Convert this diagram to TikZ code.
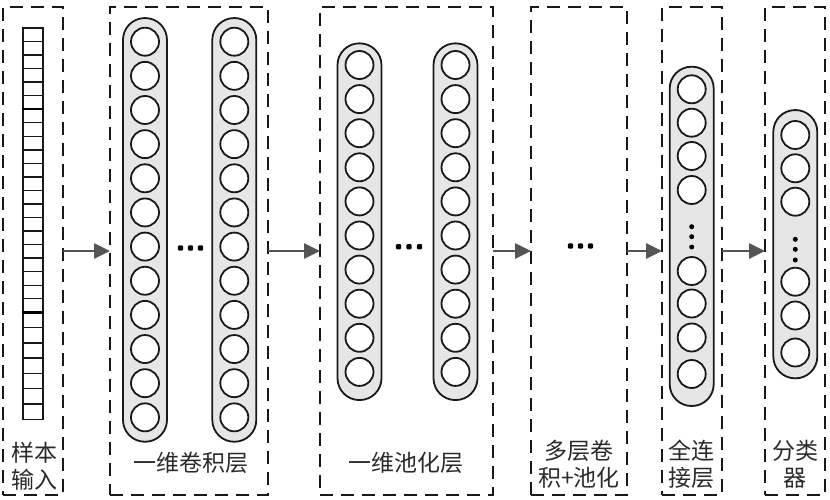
\documentclass[tikz,border=0pt]{standalone}
\usepackage{fontspec}
\newfontfamily\cjk{Noto Sans CJK SC}
\usetikzlibrary{arrows.meta}
\definecolor{arrowgray}{HTML}{555555}
\definecolor{capfill}{HTML}{E6E6E6}
\definecolor{txtgray}{HTML}{2A2A2A}
\begin{document}
\begin{tikzpicture}[x=1pt,y=-1pt,
  stage/.style={draw=black!90, dash pattern=on 13pt off 8pt, line width=2pt,
    minimum width=#1, minimum height=488pt, inner sep=0pt, outer sep=0pt},
  capsule/.style={draw=black!90, fill=capfill, line width=1.8pt, rounded corners=21.8pt,
    minimum width=44pt, minimum height=#1, inner sep=0pt, outer sep=0pt},
  neuron/.style={circle, draw=black!90, fill=white, line width=1.8pt, minimum size=28pt, inner sep=0pt},
  inputcol/.style={draw=black!90, line width=1.6pt, minimum width=20pt, minimum height=391.3pt, inner sep=0pt},
  cellline/.style={draw=black!90, line width=1.4pt},
  boldline/.style={draw=black, line width=2.4pt},
  lab/.style={font=\cjk\fontsize{23}{27}\selectfont, text=txtgray, align=center, inner sep=0pt},
  arr/.style={draw=arrowgray, line width=2.6pt, -{Triangle[length=16pt,width=15pt]}},
  vdot/.style={fill=black},
  hdot/.style={fill=black, rounded corners=1pt}
]
\useasboundingbox (0,0) rectangle (830,500);

% stages (dashed boxes)
\node[stage=60pt]  (s1) at (33,251) {};
\node[stage=158pt] (s2) at (189,251) {};
\node[stage=173pt] (s3) at (406.5,251) {};
\node[stage=96pt]  (s4) at (579,251) {};
\node[stage=60pt]  (s5) at (692,251) {};
\node[stage=60pt]  (s6) at (795,251) {};

% input column
\node[inputcol] (inp) at (33,223.65) {};
\foreach \k in {1,...,20}{
  \draw[cellline] (inp.west |- 0,{28+\k*13.538}) -- (inp.east |- 0,{28+\k*13.538});
}
\draw[boldline] (inp.west |- 0,109.2) -- (inp.east |- 0,109.2);
\draw[boldline] (inp.west |- 0,312.3) -- (inp.east |- 0,312.3);
\foreach \k in {1,...,6}{
  \draw[cellline] (inp.west |- 0,{312.3+\k*15.29}) -- (inp.east |- 0,{312.3+\k*15.29});
}

% convolution layer
\node[capsule=423.7pt] (cv1) at (145,229.9) {};
\node[capsule=423.7pt] (cv2) at (234.3,229.9) {};
\foreach \i in {0,...,11}{
  \node[neuron] (cva\i) at (145,{41.7+\i*34.15}) {};
  \node[neuron] (cvb\i) at (234.3,{41.7+\i*34.15}) {};
}
\foreach \x in {180.5,190.5,200.5}{
  \fill[hdot] (\x-2.6,245.4) rectangle (\x+2.6,250.6);
}

% pooling layer
\node[capsule=356.7pt] (pl1) at (359.5,221.7) {};
\node[capsule=356.7pt] (pl2) at (455.5,221.7) {};
\foreach \i in {0,...,9}{
  \node[neuron] (pla\i) at (359.5,{65+\i*34.1}) {};
  \node[neuron] (plb\i) at (455.5,{65+\i*34.1}) {};
}
\foreach \x in {398.5,409,419.5}{
  \fill[hdot] (\x-2.6,244.1) rectangle (\x+2.6,249.3);
}

% multi-layer placeholder dots
\foreach \x in {570.5,580.5,590.5}{
  \fill[hdot] (\x-2.6,243.4) rectangle (\x+2.6,248.6);
}

% fully connected layer
\node[capsule=339.3pt] (fc) at (691.7,236.35) {};
\foreach \y [count=\n] in {89.3,122.7,156,190,271,303.5,337.5,374}{
  \node[neuron] (fcn\n) at (691.7,\y) {};
}
\foreach \y in {226.7,236.7,247}{
  \fill[vdot] (691.7,\y) circle (2.5pt);
}

% classifier
\node[capsule=268.3pt] (cl) at (795.3,244.2) {};
\foreach \y [count=\n] in {135,168.3,201.7,281.7,315.5,352.5}{
  \node[neuron] (cln\n) at (795.3,\y) {};
}
\foreach \y in {239.3,249.3,260}{
  \fill[vdot] (795.3,\y) circle (2.5pt);
}

% arrows
\draw[arr] (s1.east) -- (s2.west);
\draw[arr] (s2.east) -- (s3.west);
\draw[arr] (s3.east) -- (s4.west);
\draw[arr] (s4.east) -- (s5.west);
\draw[arr] (s5.east) -- (s6.west);

% labels
\node[lab] (l1) at (35,466) {样本\\输入};
\node[lab] (l2) at (190.5,463) {一维卷积层};
\node[lab] (l3) at (406,463) {一维池化层};
\node[lab] (l4) at (579,464) {多层卷\\积+池化};
\node[lab] (l5) at (691,464) {全连\\接层};
\node[lab] (l6) at (795,464) {分类\\器};
\end{tikzpicture}
\end{document}
